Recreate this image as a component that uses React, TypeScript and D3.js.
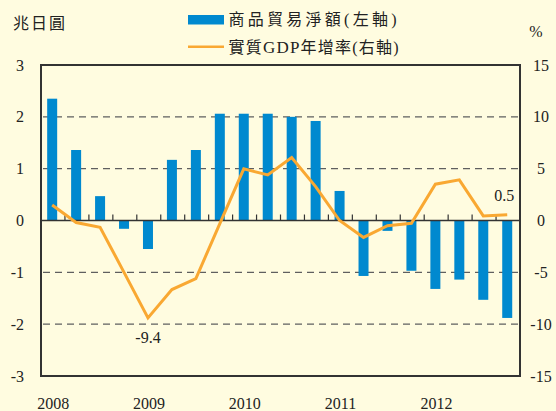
import React from "react";
import * as d3 from "d3";

const years = ["2008", "2009", "2010", "2011", "2012"];
const quarterNames = ["Q1", "Q2", "Q3", "Q4"];
const quarters = years.flatMap((y) => quarterNames.map((q) => y + q));

// 商品貿易淨額 (兆日圓, left axis)
const tradeBalance = [
  2.35, 1.36, 0.47, -0.16,
  -0.55, 1.17, 1.36, 2.06,
  2.06, 2.06, 2.0, 1.92,
  0.57, -1.07, -0.2, -0.97,
  -1.32, -1.14, -1.53, -1.88,
];
// 實質GDP年增率 (%, right axis)
const gdpGrowth = [
  1.5, -0.2, -0.65, -5.0,
  -9.4, -6.66, -5.6, -0.3,
  4.98, 4.4, 6.07, 3.27,
  0.0, -1.63, -0.5, -0.27,
  3.5, 3.92, 0.44, 0.56,
];
const leftTicks = [-3, -2, -1, 0, 1, 2, 3];
const rightTicks = [-15, -10, -5, 0, 5, 10, 15];
const annotations = [
  { index: 4, text: "-9.4", pos: "below" },
  { index: 19, text: "0.5", pos: "above" },
];

const W = 556;
const H = 411;
const M = { left: 41, right: 520, top: 65, bottom: 376 };
const BG = "#FFFCE0";
const BLUE = "#0089CF";
const ORANGE = "#F9A832";
const SERIF = "'Liberation Serif', 'Times New Roman', serif";
const CJK = "'Noto Sans CJK TC', 'Noto Sans CJK SC', sans-serif";

export default function App() {
  const x = d3.scaleBand<string>().domain(quarters).range([M.left, M.right]);
  const yL = d3.scaleLinear().domain([-3, 3]).range([M.bottom, M.top]);
  const yR = d3.scaleLinear().domain([-15, 15]).range([M.bottom, M.top]);
  const cx = (q: string) => (x(q) as number) + x.bandwidth() / 2 - 0.8;
  const barW = 10;

  const line = d3
    .line<number>()
    .x((_, i) => cx(quarters[i]))
    .y((d) => yR(d));

  const y0 = yL(0);

  return (
    <svg
      width={W}
      height={H}
      style={{ position: "absolute", left: 0, top: 0, background: BG }}
    >
      <rect x={0} y={0} width={W} height={H} fill={BG} />
      {/* grid lines */}
      {leftTicks
        .filter((t) => t !== 0 && t !== 3 && t !== -3)
        .map((t) => (
          <line
            key={"g" + t}
            x1={M.left}
            x2={M.right}
            y1={yL(t)}
            y2={yL(t)}
            stroke="#5f5f5f"
            strokeWidth={1.4}
            strokeDasharray="7,5"
            strokeDashoffset={-2}
          />
        ))}
      {/* bars */}
      {tradeBalance.map((v, i) => (
        <rect
          key={"b" + i}
          x={cx(quarters[i]) - barW / 2}
          y={Math.min(yL(v), y0)}
          width={barW}
          height={Math.abs(yL(v) - y0)}
          fill={BLUE}
        />
      ))}
      {/* zero line and ticks */}
      <line x1={M.left} x2={M.right} y1={y0} y2={y0} stroke="#333" strokeWidth={1.5} />
      {quarters.slice(1).map((q) => (
        <line
          key={"t" + q}
          x1={x(q) as number}
          x2={x(q) as number}
          y1={y0}
          y2={y0 - 6}
          stroke="#333"
          strokeWidth={1.2}
        />
      ))}
      {/* GDP line */}
      <path
        d={line(gdpGrowth) as string}
        fill="none"
        stroke={ORANGE}
        strokeWidth={3}
        strokeLinejoin="miter"
      />
      {/* frame */}
      <rect
        x={M.left}
        y={M.top}
        width={M.right - M.left}
        height={M.bottom - M.top}
        fill="none"
        stroke="#333"
        strokeWidth={2}
      />
      {/* left axis labels */}
      {leftTicks.map((t) => (
        <text
          key={"l" + t}
          x={24}
          y={yL(t)}
          dy="0.35em"
          textAnchor="end"
          fontFamily={SERIF}
          fontSize={16}
          fill="#222"
        >
          {t}
        </text>
      ))}
      {/* right axis labels */}
      {rightTicks.map((t) => (
        <text
          key={"r" + t}
          x={541}
          y={yR(t)}
          dy="0.35em"
          textAnchor="middle"
          fontFamily={SERIF}
          fontSize={16}
          fill="#222"
        >
          {t}
        </text>
      ))}
      {/* year labels */}
      {years.map((yr) => (
        <text
          key={"y" + yr}
          x={cx(yr + "Q1") + 1}
          y={409}
          textAnchor="middle"
          fontFamily={SERIF}
          fontSize={16}
          fill="#222"
        >
          {yr}
        </text>
      ))}
      {/* annotations */}
      {annotations.map((a) => (
        <text
          key={"a" + a.index}
          x={cx(quarters[a.index]) + (a.pos === "above" ? -3 : 0)}
          y={a.pos === "below" ? yR(gdpGrowth[a.index]) + 25 : yR(gdpGrowth[a.index]) - 14}
          textAnchor="middle"
          fontFamily={SERIF}
          fontSize={16}
          fill="#222"
        >
          {a.text}
        </text>
      ))}
      {/* unit labels */}
      <text x={13} y={29} fontFamily={CJK} fontSize={16} fill="#222" textLength={52} lengthAdjust="spacing">
        兆日圓
      </text>
      <text x={536} y={37} textAnchor="middle" fontFamily={SERIF} fontSize={16} fill="#222">
        %
      </text>
      {/* legend */}
      <rect x={188} y={15} width={36} height={9.5} fill={BLUE} />
      <text x={228.5} y={25} fontFamily={CJK} fontSize={16} fill="#222" textLength={168} lengthAdjust="spacing">
        商品貿易淨額<tspan fontFamily={SERIF}>(</tspan>左軸<tspan fontFamily={SERIF}>)</tspan>
      </text>
      <line x1={188} x2={224} y1={46.7} y2={46.7} stroke={ORANGE} strokeWidth={2.5} />
      <text x={228.5} y={53} fontFamily={CJK} fontSize={16} fill="#222" textLength={170} lengthAdjust="spacing">
        實質<tspan fontFamily={SERIF} fontSize={17}>GDP</tspan>年增率<tspan fontFamily={SERIF}>(</tspan>右軸<tspan fontFamily={SERIF}>)</tspan>
      </text>
    </svg>
  );
}
